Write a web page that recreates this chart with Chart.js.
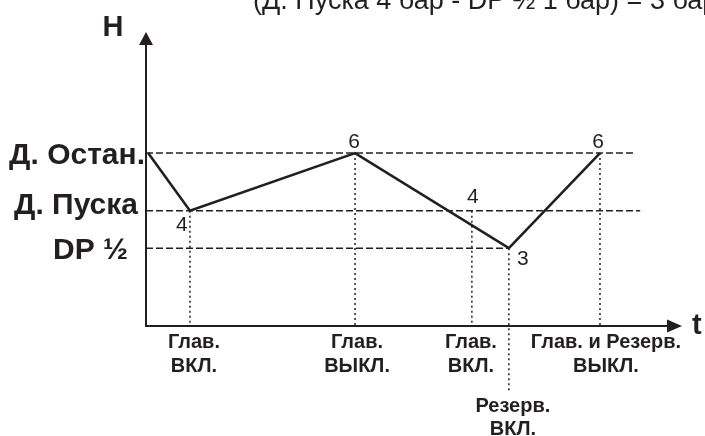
<!DOCTYPE html>
<html>
<head>
<meta charset="utf-8">
<script src="https://cdn.jsdelivr.net/npm/chart.js@4/dist/chart.umd.min.js"></script>
<style>
  html, body { margin: 0; padding: 0; background: #ffffff; }
  #wrap { width: 705px; height: 436px; position: relative; }
</style>
</head>
<body>
<div id="wrap"><canvas id="c" width="705" height="436"></canvas></div>
<script>
// ---- data ----
const titleText = '(Д. Пуска 4 бар - DP ½ 1 бар) = 3 бар';
const axisNames = ['H', 't'];

// main pressure curve (t, H)
const curveT = [0.4, 8.2, 39, 67.7, 84.7];
const curveH = [6, 4, 6, 2.7, 6];
const curveLabels = ['', '4', '6', '3', '6'];

// levels (horizontal dashed lines)
const levelNames = ['Д. Остан.', 'Д. Пуска', 'DP ½'];
const levelH = [6, 4, 2.7];
const levelEndT = [91.2, 92.2, 67.7];

// events (vertical dotted lines)
const eventT = [8.2, 39, 60.8, 67.7, 84.7];
const eventTopH = [4, 6, 4, 2.7, 6];
const eventBottomH = [0, 0, 0, -2.3, 0];
const eventNames = [
  ['Глав.', 'ВКЛ.'],
  ['Глав.', 'ВЫКЛ.'],
  ['Глав.', 'ВКЛ.'],
  ['Резерв.', 'ВКЛ.'],
  ['Глав. и Резерв.', 'ВЫКЛ.']
];

// extra value mark on the Д. Пуска level
const extraMarkT = [60.8];
const extraMarkH = [4];
const extraMarkLabels = ['4'];

// ---- layout / style (kept separate from data) ----
const ink = '#231f20';
const FONT = '"Liberation Sans", Arial, sans-serif';
const curveLabelOffset = [[0,0], [-8, 13], [-1, -13], [14, 9], [-2, -13]];
const extraLabelOffset = [[1, -15]];
const levelLabelRight = [145, 138, 128];
const levelLabelDy = [0, -7, 0];
const eventLabelDx = [4, 2, -1, 4, 6];
const eventLabelBaseline = [[348, 372], [348, 372], [348, 372], [412, 435], [348, 372]];

const datasets = [];
levelH.forEach((h, i) => {
  datasets.push({
    data: [{x: 0, y: h}, {x: levelEndT[i], y: h}],
    borderColor: ink, borderWidth: 1.4, borderDash: [7, 3],
    pointRadius: 0, clip: false
  });
});
eventT.forEach((t, i) => {
  datasets.push({
    data: [{x: t, y: eventTopH[i]}, {x: t, y: eventBottomH[i]}],
    borderColor: ink, borderWidth: 1.5, borderDash: [2, 3],
    pointRadius: 0, clip: false
  });
});
datasets.push({
  data: curveT.map((t, i) => ({x: t, y: curveH[i]})),
  borderColor: ink, borderWidth: 2.6, pointRadius: 0, clip: false,
  borderJoinStyle: 'miter'
});

const decor = {
  id: 'decor',
  afterDatasetsDraw(chart) {
    const ctx = chart.ctx;
    const xs = chart.scales.x, ys = chart.scales.y;
    const ca = chart.chartArea;
    const x0 = xs.getPixelForValue(0), y0 = ys.getPixelForValue(0);
    ctx.save();
    // axes
    ctx.strokeStyle = ink; ctx.fillStyle = ink; ctx.lineWidth = 2;
    ctx.beginPath();
    ctx.moveTo(x0, y0 + 1); ctx.lineTo(x0, ca.top + 12);
    ctx.moveTo(x0 - 1, y0); ctx.lineTo(ca.right - 14, y0);
    ctx.stroke();
    ctx.beginPath();
    ctx.moveTo(x0, ca.top); ctx.lineTo(x0 - 7, ca.top + 13); ctx.lineTo(x0 + 7, ca.top + 13); ctx.closePath(); ctx.fill();
    ctx.beginPath();
    ctx.moveTo(ca.right, y0); ctx.lineTo(ca.right - 15, y0 - 6.5); ctx.lineTo(ca.right - 15, y0 + 6.5); ctx.closePath(); ctx.fill();

    // axis names
    ctx.textBaseline = 'alphabetic';
    ctx.font = 'bold 29px ' + FONT;
    ctx.textAlign = 'center';
    ctx.fillText(axisNames[0], x0 - 33, ca.top + 4);
    ctx.textAlign = 'left';
    ctx.fillText(axisNames[1], ca.right + 10, y0 + 8);

    // title (cut at top)
    ctx.font = '27px ' + FONT;
    ctx.textAlign = 'left';
    ctx.fillText(titleText, 253, 9);

    // level names
    ctx.font = 'bold 30px ' + FONT;
    ctx.textAlign = 'right';
    levelNames.forEach((n, i) => {
      const y = ys.getPixelForValue(levelH[i]) + levelLabelDy[i];
      ctx.fillText(n, levelLabelRight[i], y + 10.5);
    });

    // curve value labels
    ctx.font = '21px ' + FONT;
    ctx.textAlign = 'center';
    curveLabels.forEach((l, i) => {
      if (!l) return;
      const x = xs.getPixelForValue(curveT[i]) + curveLabelOffset[i][0];
      const y = ys.getPixelForValue(curveH[i]) + curveLabelOffset[i][1];
      ctx.fillText(l, x, y + 7.5);
    });
    extraMarkLabels.forEach((l, i) => {
      const x = xs.getPixelForValue(extraMarkT[i]) + extraLabelOffset[i][0];
      const y = ys.getPixelForValue(extraMarkH[i]) + extraLabelOffset[i][1];
      ctx.fillText(l, x, y + 7.5);
    });

    // event names
    ctx.font = 'bold 20px ' + FONT;
    ctx.textAlign = 'center';
    eventNames.forEach((lines, i) => {
      const x = xs.getPixelForValue(eventT[i]) + eventLabelDx[i];
      lines.forEach((ln, j) => ctx.fillText(ln, x, eventLabelBaseline[i][j]));
    });
    ctx.restore();
  }
};

new Chart(document.getElementById('c'), {
  type: 'line',
  data: { datasets },
  options: {
    responsive: false,
    animation: false,
    devicePixelRatio: 1,
    layout: { padding: { left: 146, right: 23, top: 32, bottom: 110 } },
    scales: {
      x: { type: 'linear', min: 0, max: 100, display: false },
      y: { type: 'linear', min: 0, max: 10.2, display: false }
    },
    elements: { line: { tension: 0 } },
    plugins: { legend: { display: false }, tooltip: { enabled: false }, title: { display: false } }
  },
  plugins: [decor]
});
</script>
</body>
</html>
